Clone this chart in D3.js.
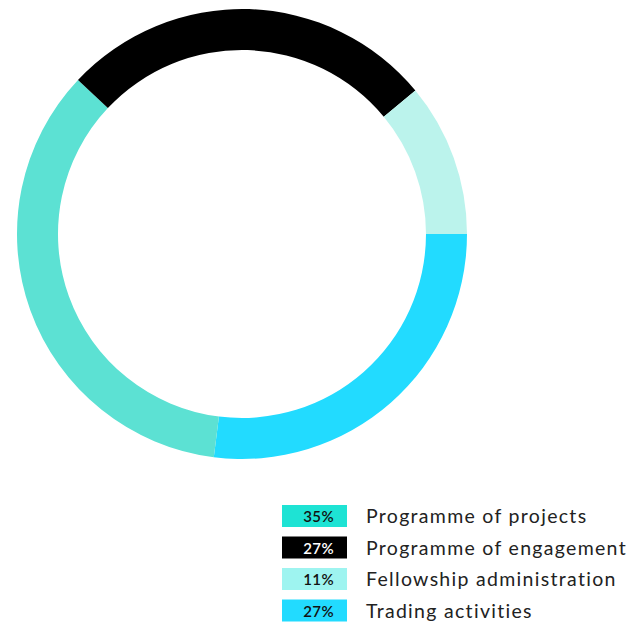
<!DOCTYPE html>
<html><head><meta charset="utf-8">
<script src="https://cdn.jsdelivr.net/npm/d3@7"></script>
<style>body{margin:0;background:#fff}svg{display:block}</style>
</head><body>
<svg id="c" width="630" height="627"></svg>
<script>
const categories = ["Programme of projects","Programme of engagement","Fellowship administration","Trading activities"];
const values = [35, 27, 11, 27];
const ringColors = ["#5ce1d3","#000000","#bbf3ec","#22dbff"];
const swatchColors = ["#1ee3d4","#000000","#9ef4f0","#22dbff"];
const swatchText = ["#111","#fff","#111","#111"];
// drawing order around the ring, clockwise from 3 o'clock
const ringOrder = [3, 0, 1, 2];

const svg = d3.select("#c");
const cx = 242, cy = 234, R = 225, r = 184;
const start = Math.PI / 2;
const pie = d3.pie().sort(null).value(i => values[i]).startAngle(start).endAngle(start + 2*Math.PI);
const arc = d3.arc().innerRadius(r).outerRadius(R);
svg.append("g").attr("transform", `translate(${cx},${cy})`)
  .selectAll("path").data(pie(ringOrder)).join("path")
  .attr("d", arc).attr("fill", d => ringColors[d.data]);

const y = d3.scaleBand().domain(d3.range(categories.length)).range([501, 627]);
const lg = svg.append("g");
const rows = lg.selectAll("g").data(d3.range(categories.length)).join("g")
  .attr("transform", i => `translate(0,${y(i)})`);
rows.append("rect").attr("x", 282).attr("y", 4).attr("width", 65).attr("height", 22)
  .attr("fill", i => swatchColors[i]);
rows.append("text").attr("x", 334).attr("y", 21).attr("text-anchor","end")
  .attr("font-family","Lato, sans-serif").attr("font-size",15).attr("font-weight",600)
  .attr("letter-spacing",0.4)
  .attr("fill", i => swatchText[i]).text(i => values[i] + "%");
rows.append("text").attr("x", 366).attr("y", 22)
  .attr("font-family","Lato, sans-serif").attr("font-size",19.5)
  .attr("letter-spacing",1.3)
  .attr("fill","#222").text(i => categories[i]);
</script>
</body></html>
